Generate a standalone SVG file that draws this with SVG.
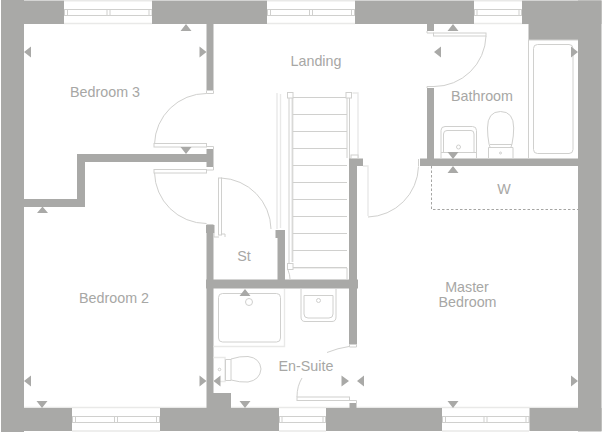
<svg xmlns="http://www.w3.org/2000/svg" width="602" height="432" viewBox="0 0 602 432">
<style>
.w{fill:#a9a9a7;stroke:none}
.l{fill:none;stroke:#d0d0ce;stroke-width:1}
.p{fill:none;stroke:#e9e9e8;stroke-width:1.4}
.f{fill:#fff;stroke:#d0d0ce;stroke-width:1}
.d{fill:none;stroke:#a5a5a3;stroke-width:1;stroke-dasharray:2.5 2}
.t{font-family:"Liberation Sans",Arial,sans-serif;font-size:14.300px;fill:#a7a7a5;text-anchor:middle}
</style>
<rect width="602" height="432" fill="#fff"/>
<g id="windows">
<path class="p" d="M64 0.7H152M64 23.5H152M267 0.7H355M267 23.5H355M474 0.7H522M474 23.5H528M72 407.5H160M72 431H160M279 407.5H326M279 431H326M442 407.5H529M442 431H529M24 407.5H72M160 407.5H279M326 407.5H442M529 407.5H578"/>
<path class="l" d="M64 9.5H152M64 15.5H152M267 9.5H355M267 15.5H355M474 9.5H522M474 15.5H522M72 416.5H160M72 422.5H160M279 416.5H326M279 422.5H326M442 416.5H529M442 422.5H529"/>
<rect class="f" x="64.5" y="9.5" width="3" height="6"/><rect class="f" x="107" y="9.5" width="3" height="6"/><rect class="f" x="149" y="9.5" width="3" height="6"/>
<rect class="f" x="267.5" y="9.5" width="3" height="6"/><rect class="f" x="309.5" y="9.5" width="3" height="6"/><rect class="f" x="351.5" y="9.5" width="3" height="6"/>
<rect class="f" x="474.5" y="9.5" width="2.5" height="6"/><rect class="f" x="519" y="9.5" width="2.5" height="6"/>
<rect class="f" x="72.5" y="416.5" width="3" height="6"/><rect class="f" x="114.5" y="416.5" width="3" height="6"/><rect class="f" x="156.5" y="416.5" width="3" height="6"/>
<rect class="f" x="279.5" y="416.5" width="2.5" height="6"/><rect class="f" x="323" y="416.5" width="2.5" height="6"/>
<rect class="f" x="442.5" y="416.5" width="3" height="6"/><rect class="f" x="484" y="416.5" width="3" height="6"/><rect class="f" x="526" y="416.5" width="3" height="6"/>
</g>
<g id="walls">
<rect class="w" x="1" y="0" width="23" height="432"/>
<rect class="w" x="1" y="0.5" width="63" height="23.5"/>
<rect class="w" x="152" y="0.5" width="115" height="23.5"/>
<rect class="w" x="355" y="0.5" width="119" height="23.5"/>
<rect class="w" x="522" y="0.5" width="79.5" height="23.5"/>
<rect class="w" x="528.5" y="24" width="50" height="16"/>
<rect class="w" x="578" y="0.5" width="23.5" height="431"/>
<rect class="w" x="1" y="408" width="71" height="23"/>
<rect class="w" x="160" y="408" width="119" height="23"/>
<rect class="w" x="326" y="408" width="116" height="23"/>
<rect class="w" x="529.5" y="408" width="72" height="23"/>
<rect class="w" x="206.5" y="24" width="7" height="66.5"/>
<rect class="w" x="206.5" y="149" width="7" height="18"/>
<rect class="w" x="77" y="154" width="130" height="8"/>
<rect class="w" x="77" y="154" width="8" height="53"/>
<rect class="w" x="24" y="199" width="61" height="8"/>
<rect class="w" x="206.5" y="225" width="7" height="183"/>
<rect class="w" x="206" y="225" width="8.5" height="8"/>
<rect class="w" x="206" y="279.5" width="152" height="9"/>
<rect class="w" x="277.5" y="230" width="7.5" height="50"/>
<rect class="w" x="275.5" y="230" width="9.5" height="8"/>
<rect class="w" x="349" y="158.5" width="8" height="186"/>
<rect class="w" x="349" y="158.5" width="14" height="7.5"/>
<rect class="w" x="349.5" y="403" width="7" height="5"/>
<rect class="w" x="427" y="24" width="7" height="7"/>
<rect class="w" x="427" y="88" width="7" height="71"/>
<rect class="w" x="420" y="158.5" width="158" height="7.5"/>
<rect class="w" x="213" y="393" width="18" height="15"/>
</g>
<g id="stairs">
<path class="p" d="M277 93V229M280.5 94V228M352.5 93H358V158M363 166H368V216M290 268H347M292 98V262"/>
<path class="l" d="M289 98V263M292.8 98V262M347 98V158M349.5 98V158M292 97.500H347M292.800 114.500H347M292.800 131.500H347M292.800 148.500H347M292.800 165.500H347M292.800 182.500H347M292.800 199.500H347M292.800 216.500H347M292.800 233.500H347M292.800 250.500H347M292.800 267.500H347M347 268V279M288 270Q290 275 290 279"/>
<rect class="f" x="287.500" y="92.500" width="5.500" height="5.500"/>
<rect class="f" x="346" y="92.500" width="5.500" height="5.500"/>
<rect class="f" x="287.500" y="263.500" width="5.500" height="6"/>
<rect class="f" x="351" y="155" width="7" height="3.500"/>
</g>
<g id="doors">
<path class="l" d="M154.500 144A52 52 0 0 1 206.500 93.500M154.500 172.500A52 52 0 0 0 206.500 223.500M221 178A52 52 0 0 1 271 229M486 36A52 52 0 0 1 434 86.500M368 217A52 52 0 0 0 418.500 166.500M327 352.500Q338 348 349 346.500M297 397Q297 386 302 378"/>
<rect class="f" x="154" y="143.500" width="52.500" height="3.500"/>
<rect class="f" x="154" y="169.500" width="52.500" height="3.500"/>
<path class="l" d="M206.500 146.500H213.500V149M206.500 170H213.500V167M206.500 224.500H213.500M206.500 90.500V93.500H213.500V90.500M214 233V237H219M221 234H225V237"/>
<rect class="f" x="218.500" y="178" width="3" height="57"/>
<rect class="f" x="433.500" y="33" width="52.500" height="3"/>
<path class="l" d="M427 31V33H434M427 88V86.500H434M418.500 159V166"/>
<rect class="f" x="297" y="397" width="52.500" height="3.500"/>
<path class="l" d="M349.500 344.500V347H356.500V344.500M349.500 400.500H356.500V403"/>
</g>
<g id="fixtures">
<rect class="l" x="218.500" y="293.500" width="62" height="48.500" rx="4"/>
<path class="p" d="M284.500 289V346.500H213.500"/>
<circle class="l" cx="249" cy="302" r="3.500"/>
<path class="l" d="M301 289V317Q301 321.500 305 321.500H332Q336 321.500 336 317V289M304 295.500H333M304 295.500V314Q304 318 308 318H329Q333 318 333 314V295.500"/>
<circle class="l" cx="318.500" cy="300.500" r="2"/>
<path class="p" d="M213.500 357.500H225V381.500H213.500"/>
<path class="l" d="M225.500 359.500V380.500H231M225.500 359.500H231M231 359Q240 356 248 356.500Q260 358 261 369Q260 380 248 382Q240 382.500 231 380V359"/>
<circle class="l" cx="219.500" cy="369.500" r="1.300"/>
<path class="l" d="M441 158V130.500Q441 126.500 445 126.500H472.500Q476.500 126.500 476.500 130.500V158M443.500 152V134Q443.500 130.500 447 130.500H471Q474 130.500 474 134V152M441 152.500H476.500"/>
<circle class="l" cx="458.500" cy="147" r="2"/>
<path class="l" d="M488.500 158V147.500H513V158M490 147L489 144Q487.500 136 487.500 128Q487.500 111.500 500.500 111.500Q513.700 111.500 513.700 128Q513.700 136 512 144L511 147M490 144.500H512"/>
<circle class="l" cx="500.500" cy="153" r="1"/>
<path class="l" d="M528.500 40V158.500M528.500 40H578"/>
<rect class="l" x="533.500" y="44.500" width="39.500" height="109" rx="4"/>
<path class="d" d="M431.500 166V209.500H578"/>
</g>
<g id="markers" class="w">
<path d="M180.500 31H191.500L186 24ZM447.500 31H458.500L453 24ZM37 213H48L42.500 206.500ZM239.500 296H250.500L245 289ZM447.500 173H458.500L453 166Z"/>
<path d="M180.500 147H191.500L186 154ZM447.500 152H458.500L453 159ZM36.500 401H47.500L42 408ZM239.500 401H250.500L245 408ZM447.500 401H458.500L453 408Z"/>
<path d="M31 46.500V57.500L24 52ZM441 46.500V57.500L434 52ZM31 375.500V386.500L24 381ZM220.500 375.500V386.500L213.500 381ZM364 375.500V386.500L357 381Z"/>
<path d="M199.500 46.500V57.500L206.500 52ZM571 46.500V57.500L578 52ZM199.500 375.500V386.500L206.500 381ZM341.500 375.500V386.500L349 381ZM571 375.500V386.500L578 381Z"/>
</g>
<g id="labels">
<text class="t" x="105" y="97">Bedroom 3</text>
<text class="t" x="316" y="66">Landing</text>
<text class="t" x="482" y="101">Bathroom</text>
<text class="t" x="504" y="194">W</text>
<text class="t" x="244" y="261">St</text>
<text class="t" x="114" y="303">Bedroom 2</text>
<text class="t" x="467" y="292">Master</text>
<text class="t" x="467.500" y="307">Bedroom</text>
<text class="t" x="306" y="371">En-Suite</text>
</g>
</svg>
